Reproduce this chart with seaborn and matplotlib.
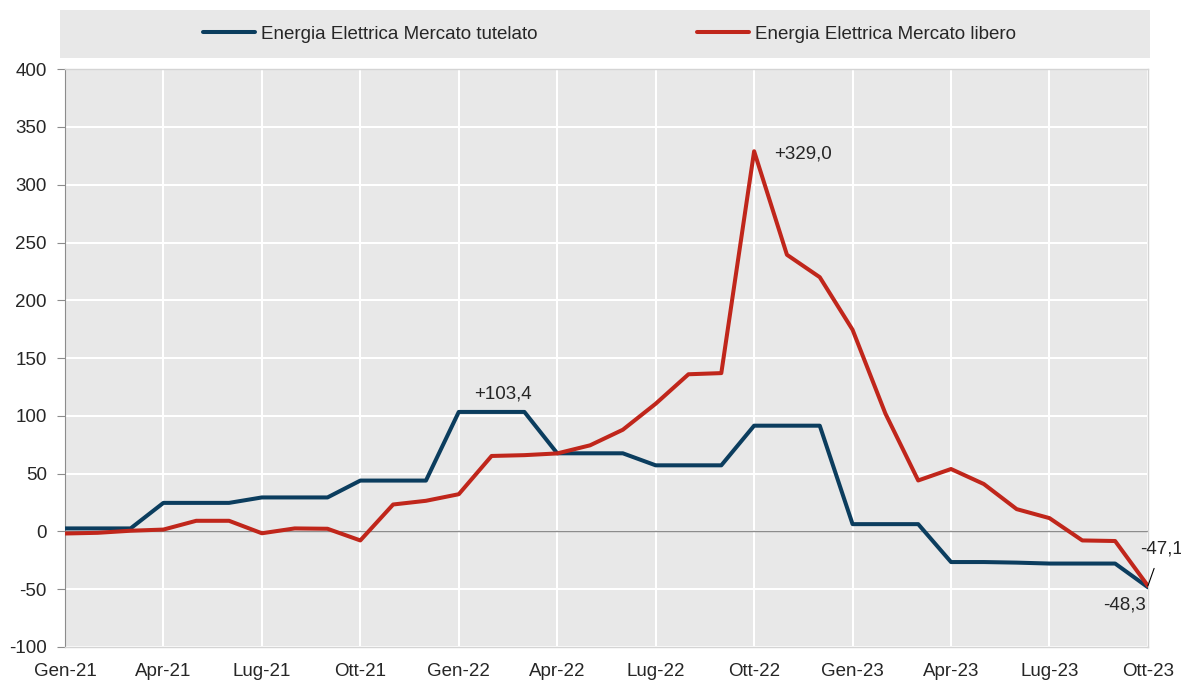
import matplotlib
matplotlib.use("Agg")
import matplotlib.pyplot as plt
from matplotlib.patches import Rectangle
import seaborn as sns
import pandas as pd

# monthly series, Gen-21 .. Ott-23
months = [
    "Gen-21", "Feb-21", "Mar-21", "Apr-21", "Mag-21", "Giu-21", "Lug-21", "Ago-21", "Set-21",
    "Ott-21", "Nov-21", "Dic-21", "Gen-22", "Feb-22", "Mar-22", "Apr-22", "Mag-22", "Giu-22",
    "Lug-22", "Ago-22", "Set-22", "Ott-22", "Nov-22", "Dic-22", "Gen-23", "Feb-23", "Mar-23",
    "Apr-23", "Mag-23", "Giu-23", "Lug-23", "Ago-23", "Set-23", "Ott-23",
]
tutelato = [
    2.6, 2.6, 2.6, 24.7, 24.7, 24.7, 29.4, 29.4, 29.4, 44.0, 44.0, 44.0,
    103.4, 103.4, 103.4, 67.6, 67.6, 67.6, 57.2, 57.2, 57.2, 91.5, 91.5, 91.5,
    6.3, 6.3, 6.3, -26.5, -26.5, -27.0, -27.8, -27.8, -27.8, -48.3,
]
libero = [
    -1.8, -1.2, 0.6, 1.6, 9.2, 9.2, -1.6, 2.6, 2.3, -7.8, 23.3, 26.5,
    32.2, 65.3, 66.0, 67.5, 74.5, 88.0, 110.5, 136.0, 137.0, 329.0, 239.4, 220.0,
    174.5, 102.0, 44.1, 54.0, 41.0, 19.3, 11.5, -7.8, -8.3, -47.1,
]
tick_labels = ["Gen-21", "Apr-21", "Lug-21", "Ott-21", "Gen-22", "Apr-22",
               "Lug-22", "Ott-22", "Gen-23", "Apr-23", "Lug-23", "Ott-23"]
series_names = ["Energia Elettrica Mercato tutelato", "Energia Elettrica Mercato libero"]
colors = ["#0B3D5E", "#C0261B"]

df = pd.DataFrame({
    "idx": list(range(len(months))) * 2,
    "value": tutelato + libero,
    "serie": [series_names[0]] * len(months) + [series_names[1]] * len(months),
})

sns.set_style("white")
plt.rcParams["font.family"] = ["Liberation Sans", "DejaVu Sans"]
plt.rcParams["font.size"] = 13.5
plt.rcParams["axes.unicode_minus"] = False

fig = plt.figure(figsize=(11.81, 6.85), dpi=100)
ax = fig.add_axes([0.055, 0.0555, 0.917, 0.8435])
ax.set_facecolor("#E8E8E8")

sns.lineplot(data=df, x="idx", y="value", hue="serie", palette=colors,
             linewidth=2.9, ax=ax, legend=False, zorder=3)

ax.set_xlim(0, len(months) - 1)
ax.set_ylim(-100, 400)
ax.set_yticks(range(-100, 401, 50))
ax.set_xticks(range(0, len(months), 3))
ax.set_xticklabels(tick_labels)
ax.grid(True, color="white", linewidth=1.5, zorder=0)
ax.set_axisbelow(True)
ax.axhline(0, color="#8C8C8C", linewidth=1, zorder=2)
ax.set_xlabel("")
ax.set_ylabel("")

for side in ["top", "right", "bottom"]:
    ax.spines[side].set_color("#D4D4D4")
    ax.spines[side].set_linewidth(1)
ax.spines["left"].set_color("#8C8C8C")
ax.tick_params(axis="y", left=True, length=6, color="#8C8C8C", labelsize=13.5, pad=7)
ax.tick_params(axis="x", bottom=False, labelsize=13.5, pad=8)

# value labels
ax.text(13.35, 119, "+103,4", ha="center", va="center", fontsize=13.5)
ax.text(22.5, 327, "+329,0", ha="center", va="center", fontsize=13.5)
ax.text(32.3, -64, "-48,3", ha="center", va="center", fontsize=13.5)
ax.annotate("-47,1", xy=(33, libero[-1]), xytext=(33.4, -15),
            ha="center", va="center", fontsize=13.5, annotation_clip=False,
            arrowprops=dict(arrowstyle="-", color="black", lw=0.8, shrinkA=6, shrinkB=0))

# legend band
fig.patches.append(Rectangle((0.0508, 0.915), 0.923, 0.070, transform=fig.transFigure,
                             facecolor="#E8E8E8", edgecolor="none", zorder=0))
handles = [plt.Line2D([], [], color=c, linewidth=2.9) for c in colors]
fig.legend(handles, series_names, loc="center", bbox_to_anchor=(0.516, 0.95),
           ncol=2, frameon=False, fontsize=13.5, handlelength=2.8,
           handletextpad=0.3, columnspacing=8.5)

fig.savefig("out.png", dpi=100)
